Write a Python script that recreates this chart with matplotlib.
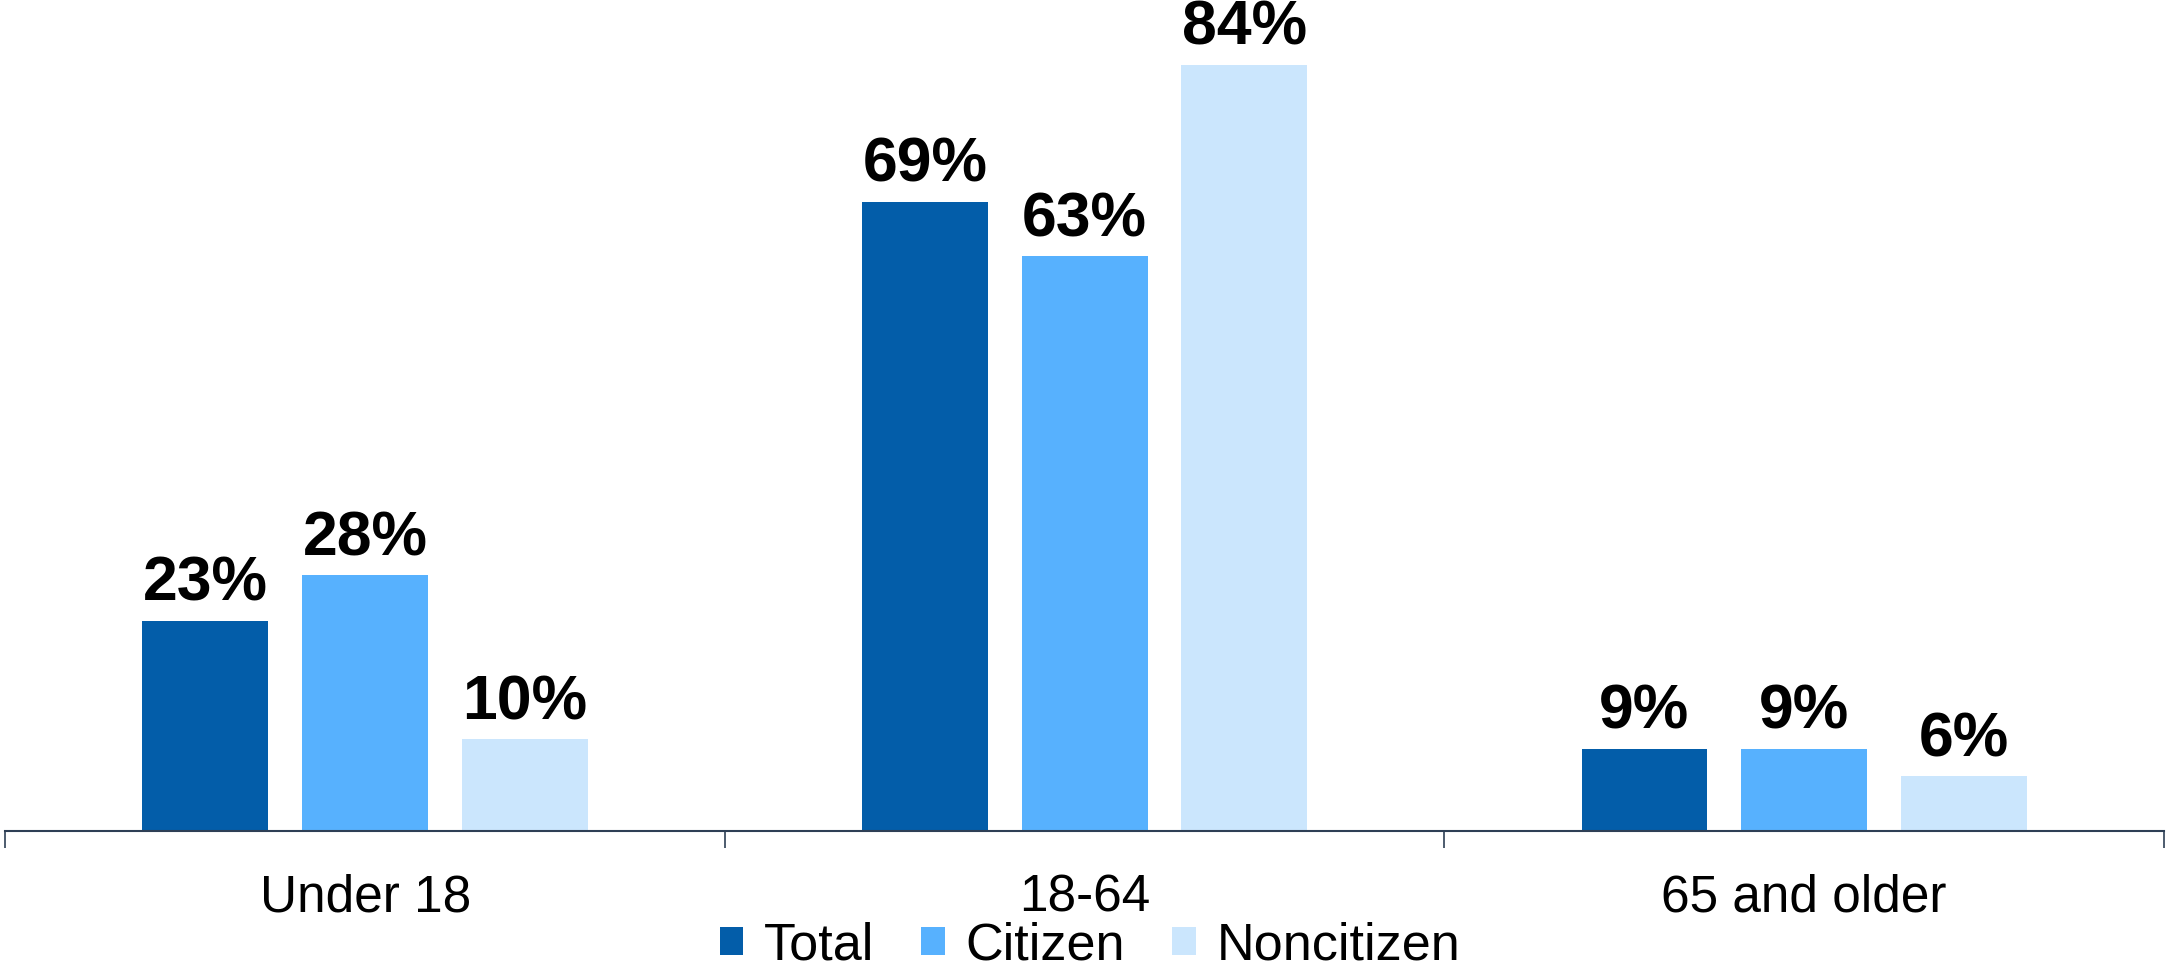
import matplotlib.pyplot as plt
import numpy as np

plt.rcParams['font.family'] = ['Liberation Sans', 'DejaVu Sans']

groups = ["Under 18", "18-64", "65 and older"]
series = ["Total", "Citizen", "Noncitizen"]
total = [23, 69, 9]
citizen = [28, 63, 9]
noncitizen = [10, 84, 6]
colors = ["#035DA9", "#57B1FE", "#CBE6FD"]

fig = plt.figure(figsize=(21.67, 9.67), dpi=100)
ax = fig.add_axes([0.0025, 0.141, 0.9961, 0.859])

x = np.arange(len(groups))
step = 0.222
width = 0.175
for i, (name, vals) in enumerate(zip(series, [total, citizen, noncitizen])):
    pos = x + (i - 1) * step
    bars = ax.bar(pos, vals, width, color=colors[i], label=name)
    for b, v in zip(bars, vals):
        ax.annotate(f"{v}%", (b.get_x() + b.get_width() / 2, v),
                    xytext=(0, 5), textcoords="offset points",
                    ha="center", va="bottom", fontsize=45, fontweight="bold")

ax.set_xlim(-0.5, 2.5)
ax.set_ylim(0, 91.1)
for s in ["top", "right", "left"]:
    ax.spines[s].set_visible(False)
ax.spines["bottom"].set_color("#2E3F55")
ax.spines["bottom"].set_linewidth(1.5)
ax.set_yticks([])
ax.set_xticks([-0.5, 0.5, 1.5, 2.5])
ax.set_xticklabels([])
ax.tick_params(axis="x", which="major", length=12, width=1.2, color="#2E3F55")
ax.set_xticks(x, minor=True)
ax.set_xticklabels(groups, minor=True, fontsize=37)
ax.tick_params(axis="x", which="minor", length=0, pad=31)

fig.legend(loc="lower center", bbox_to_anchor=(0.503, -0.052), ncol=3, frameon=False,
           fontsize=37.5, handlelength=0.45, handleheight=0.45,
           handletextpad=0.4, columnspacing=0.9)

fig.savefig("out.png", dpi=100)
